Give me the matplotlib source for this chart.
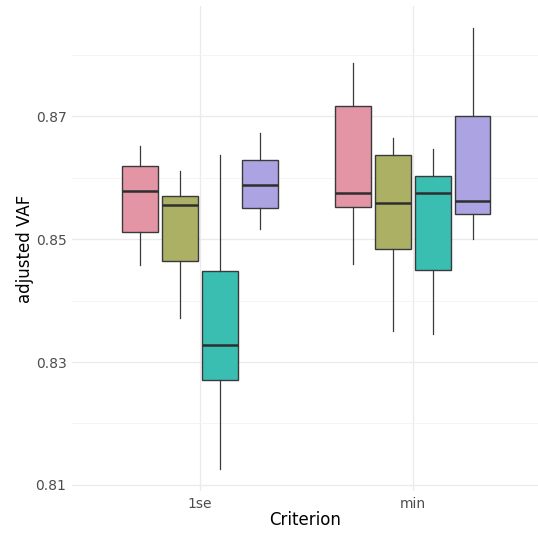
import matplotlib
matplotlib.use("Agg")
import matplotlib.pyplot as plt

criteria = ["1se", "min"]
methods = ["A", "B", "C", "D"]
colors = ["#E495A5", "#ABB065", "#39BEB1", "#ACA4E2"]

# per criterion, per method: whislo, q1, med, q3, whishi
whislo = [[0.8457, 0.8372, 0.8126, 0.8517],
          [0.8459, 0.8351, 0.8345, 0.8500]]
q1     = [[0.8511, 0.8464, 0.8271, 0.8551],
          [0.8552, 0.8483, 0.8450, 0.8541]]
med    = [[0.8578, 0.8555, 0.8328, 0.8588],
          [0.8575, 0.8558, 0.8575, 0.8562]]
q3     = [[0.8619, 0.8570, 0.8448, 0.8629],
          [0.8717, 0.8636, 0.8603, 0.8700]]
whishi = [[0.8652, 0.8610, 0.8636, 0.8672],
          [0.8787, 0.8665, 0.8646, 0.8843]]

yticks = [0.81, 0.83, 0.85, 0.87]
yticklabels = ["0.81", "0.83", "0.85", "0.87"]

W, H = 538, 535
fig = plt.figure(figsize=(W / 100, H / 100), dpi=100)
ax = fig.add_axes([72 / W, 1 - 491 / H, (538 - 72) / W, (491 - 6) / H])

dodge = 0.75
n = len(methods)
slot = dodge / n
for gi, crit in enumerate(criteria):
    for mi in range(n):
        pos = gi + 1 - dodge / 2 + slot * (mi + 0.5)
        stats = [dict(whislo=whislo[gi][mi], q1=q1[gi][mi], med=med[gi][mi],
                      q3=q3[gi][mi], whishi=whishi[gi][mi], fliers=[])]
        ax.bxp(stats, positions=[pos], widths=slot * 0.9, patch_artist=True,
               showcaps=False, showfliers=False, manage_ticks=False,
               boxprops=dict(facecolor=colors[mi], edgecolor="#3a3a3a", linewidth=1.0),
               whiskerprops=dict(color="#3a3a3a", linewidth=0.9),
               medianprops=dict(color="#2e2e2e", linewidth=1.8, solid_capstyle="butt"),
               zorder=3)

ax.set_xlim(0.398, 2.589)
ax.set_ylim(0.80902, 0.8879)
ax.set_xticks([1, 2])
ax.set_xticklabels(criteria)
ax.set_yticks(yticks)
ax.set_yticklabels(yticklabels)
ax.set_yticks([0.82, 0.84, 0.86, 0.88], minor=True)

ax.grid(True, which="major", color="#EBEBEB", linewidth=1.0, zorder=0)
ax.grid(True, which="minor", axis="y", color="#F2F2F2", linewidth=0.6, zorder=0)
ax.set_axisbelow(True)
for s in ax.spines.values():
    s.set_visible(False)
ax.tick_params(which="both", length=0, labelsize=10, labelcolor="#4D4D4D")
ax.tick_params(axis="y", pad=4)
ax.tick_params(axis="x", pad=4)

ax.set_xlabel("Criterion", fontsize=12, color="black", labelpad=0)
ax.set_ylabel("adjusted VAF", fontsize=12, color="black", labelpad=1)

fig.savefig("out.png", dpi=100, facecolor="white")
